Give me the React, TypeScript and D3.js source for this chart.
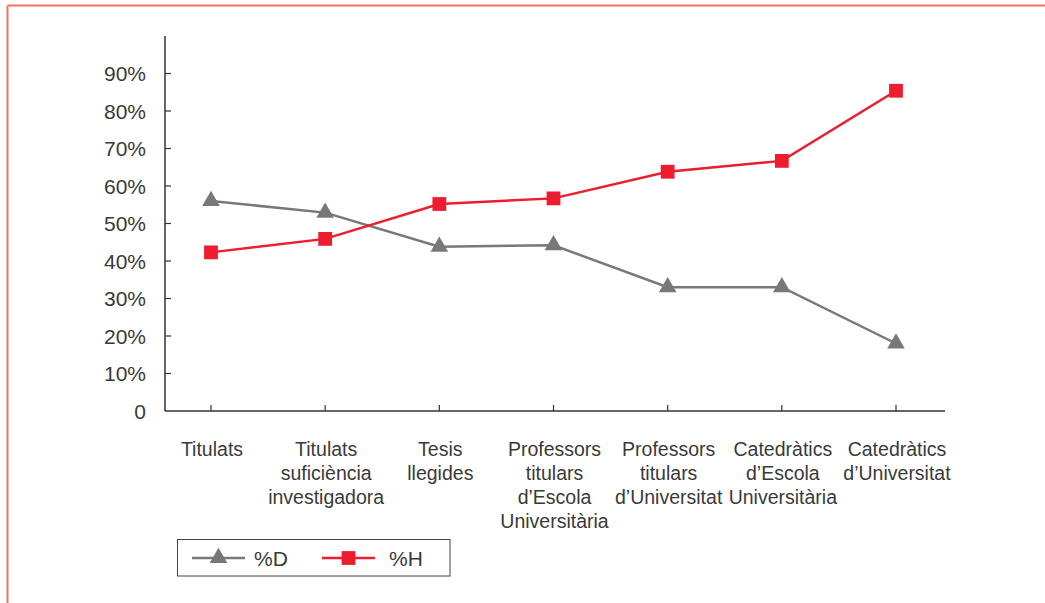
import React from "react";
import * as d3 from "d3";

// Category labels (one entry per line of the wrapped label)
const categories: string[][] = [
  ["Titulats"],
  ["Titulats", "suficiència", "investigadora"],
  ["Tesis", "llegides"],
  ["Professors", "titulars", "d’Escola", "Universitària"],
  ["Professors", "titulars", "d’Universitat"],
  ["Catedràtics", "d’Escola", "Universitària"],
  ["Catedràtics", "d’Universitat"],
];

// Percentages of women (%D) and men (%H) per category
const pctD: number[] = [56.0, 52.9, 43.8, 44.2, 33.0, 33.0, 18.0];
const pctH: number[] = [42.3, 45.9, 55.2, 56.7, 63.8, 66.7, 85.4];

const yTicks: number[] = [0, 10, 20, 30, 40, 50, 60, 70, 80, 90];

const seriesNames = ["%D", "%H"];

const W = 1045;
const H = 603;
const FONT = "'Liberation Sans', Arial, Helvetica, sans-serif";
const TEXT = "#3a3a3a";
const AXIS = "#333333";
const GRAY = "#78787b";
const RED = "#ed1c2e";

export default function App() {
  const keys = categories.map((c) => c.join(" "));
  const x = d3.scalePoint<string>().domain(keys).range([211, 896]);
  const y = d3.scaleLinear().domain([0, 100]).range([411, 36]);

  const axisLeft = 165;
  const axisRight = 945;
  const axisBottom = y(0);

  const line = d3
    .line<number>()
    .x((_, i) => x(keys[i]) as number)
    .y((v) => y(v));

  const tri = d3.symbol().type(d3.symbolTriangle).size(135)();
  const sq = d3.symbol().type(d3.symbolSquare).size(190)();

  const series = [
    { name: seriesNames[0], values: pctD, color: GRAY, marker: tri },
    { name: seriesNames[1], values: pctH, color: RED, marker: sq },
  ];

  // legend item anchors: [line start, label start]
  const legendItems = [
    [192, 254],
    [322, 389],
  ];

  return (
    <svg
      width={W}
      height={H}
      style={{ position: "fixed", left: 0, top: 0, display: "block", background: "#fff" }}
      fontFamily={FONT}
    >
      {/* outer salmon frame, open on the right and bottom */}
      <line x1={7.5} y1={5.5} x2={W} y2={5.5} stroke="#f07068" strokeWidth={2} />
      <line x1={7.5} y1={5.5} x2={7.5} y2={H} stroke="#f07068" strokeWidth={2} />

      {/* y axis */}
      <line x1={axisLeft} y1={y(100)} x2={axisLeft} y2={axisBottom} stroke={AXIS} strokeWidth={1.5} />
      {yTicks.map((t) => (
        <g key={t}>
          {t > 0 && (
            <line x1={axisLeft} x2={axisLeft + 6} y1={y(t)} y2={y(t)} stroke={AXIS} strokeWidth={1.2} />
          )}
          <text
            x={146}
            y={y(t)}
            dy="0.36em"
            textAnchor="end"
            fontSize={21}
            fill={TEXT}
          >
            {t === 0 ? "0" : `${t}%`}
          </text>
        </g>
      ))}

      {/* x axis */}
      <line x1={axisLeft} y1={axisBottom} x2={axisRight} y2={axisBottom} stroke={AXIS} strokeWidth={1.5} />
      {keys.map((k, i) => (
        <g key={k}>
          <line x1={x(k)} x2={x(k)} y1={axisBottom} y2={axisBottom - 6} stroke={AXIS} strokeWidth={1.2} />
          <text textAnchor="middle" fontSize={19.5} fill={TEXT}>
            {categories[i].map((ln, j) => (
              <tspan key={j} x={(x(k) as number) + 1} y={456 + j * 24}>
                {ln}
              </tspan>
            ))}
          </text>
        </g>
      ))}

      {/* series lines and markers */}
      {series.map((s) => (
        <g key={s.name}>
          <path d={line(s.values) || ""} fill="none" stroke={s.color} strokeWidth={2.5} />
          {s.values.map((v, i) => (
            <path
              key={i}
              d={s.marker || ""}
              transform={`translate(${x(keys[i])},${y(v)})`}
              fill={s.color}
            />
          ))}
        </g>
      ))}

      {/* legend */}
      <g>
        <rect x={177.5} y={539.5} width={272.5} height={36.5} fill="#fff" stroke="#444" strokeWidth={1} />
        {series.map((s, i) => {
          const [x0, tx] = legendItems[i];
          return (
            <g key={s.name}>
              <line x1={x0} x2={x0 + 53} y1={558} y2={558} stroke={s.color} strokeWidth={2.5} />
              <path d={s.marker || ""} transform={`translate(${x0 + 26.5},${558})`} fill={s.color} />
              <text x={tx} y={566} fontSize={21} fill={TEXT}>
                {s.name}
              </text>
            </g>
          );
        })}
      </g>
    </svg>
  );
}
